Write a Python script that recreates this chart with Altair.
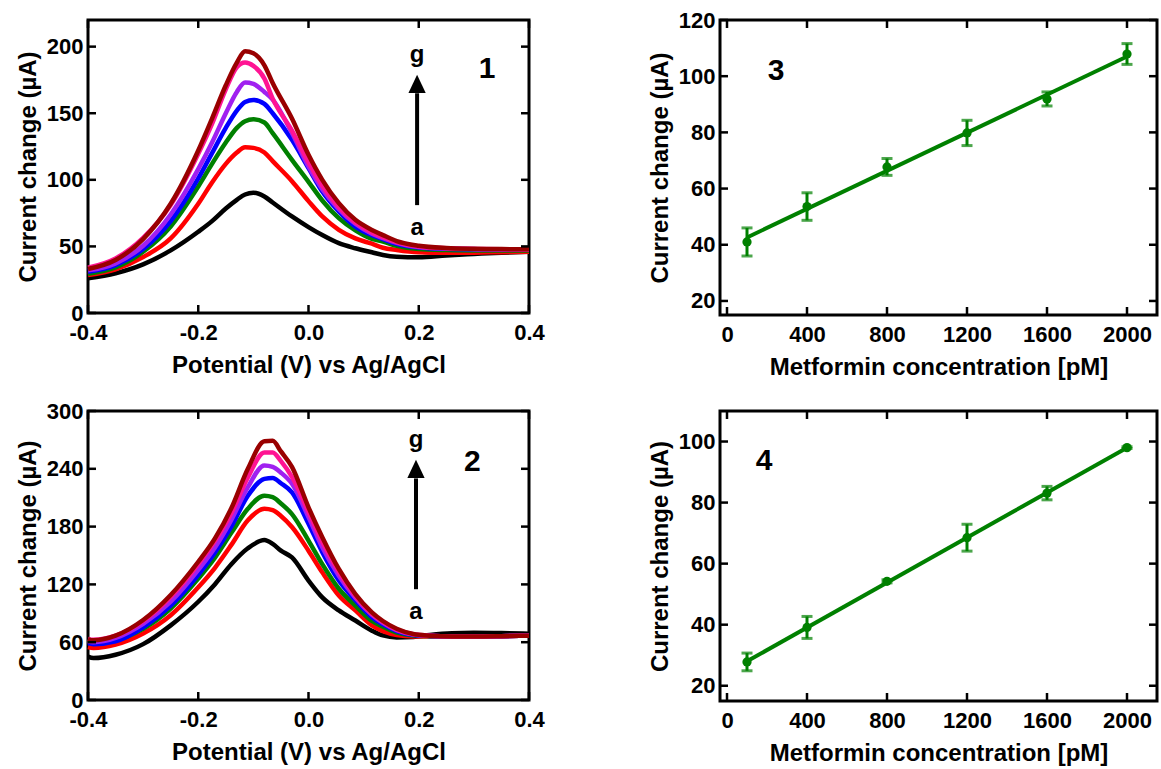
import altair as alt
import pandas as pd

FONT = "Liberation Sans"
LABEL_SIZE = 22
TITLE_SIZE = 24

CURVE_IDS = ["a", "b", "c", "d", "e", "f", "g"]
CURVE_COLORS = ["#000000", "#ff0000", "#008000", "#0000ff", "#a020f0", "#ff1493", "#990000"]

# ---------------- Panel 1 (DPV curves) ----------------
V1 = [-0.40, -0.35, -0.30, -0.25, -0.20, -0.175, -0.15, -0.13, -0.115, -0.10, -0.08, -0.065,
      -0.03, 0.0, 0.025, 0.055, 0.085, 0.115, 0.135, 0.16, 0.20, 0.25, 0.30, 0.35, 0.40]
p1_a = [26, 29.8, 36.5, 47, 61, 69, 78.5, 85, 89, 90.3, 87.5, 83, 72.5, 64.5, 58.5, 52.4, 48.6,
        45.6, 43.6, 42.3, 41.9, 43.2, 44.3, 45.3, 46]
p1_b = [28.5, 32.8, 42, 56, 82, 98, 112, 120.5, 124.5, 124, 120.5, 114, 99, 84, 72.5, 62.5,
        56, 52, 49, 47.3, 45.6, 45.2, 45.3, 45.7, 46]
p1_c = [29.5, 34.3, 46, 65, 95, 112, 128, 139, 144, 145.5, 143, 135, 115, 98.5, 84.5, 71.2, 62,
        55.6, 53.6, 50.5, 48, 47.3, 47, 47, 47]
p1_d = [31, 36, 48, 69, 101, 120, 139, 152, 158.5, 160, 157, 150, 130, 108.8, 91.2, 76.2, 64.9,
        58.5, 55.5, 52, 49.2, 48.2, 47.8, 47.6, 47.5]
p1_e = [32, 37.3, 50.5, 74, 108, 128, 150, 166, 173, 172, 166, 160.2, 135.1, 110, 93, 78, 67,
        59.5, 56.3, 52.7, 49.6, 48.4, 48, 47.8, 47.6]
p1_f = [34, 41, 56.5, 81, 119.5, 142, 168, 184.5, 188, 185.5, 176, 161, 137, 113, 95.5, 79.5,
        68, 60.5, 57, 53.3, 50, 48.6, 48.1, 47.9, 47.7]
p1_g = [33, 39.8, 55.5, 82, 122, 146, 171, 188, 196.5, 195, 186, 172.7, 146, 118.8, 100,
        82.5, 70, 62.4, 58.5, 54, 50.5, 48.8, 48.2, 48, 47.8]

# ---------------- Panel 2 (DPV curves) ----------------
V2 = [-0.40, -0.39, -0.35, -0.30, -0.25, -0.20, -0.17, -0.14, -0.11, -0.08, -0.065, -0.05,
      -0.03, 0.0, 0.025, 0.055, 0.085, 0.115, 0.135, 0.16, 0.19, 0.22, 0.26, 0.30, 0.35, 0.40]
p2_a = [45, 43.5, 47, 58, 77.5, 102, 120, 141, 157.5, 166, 162, 155, 148, 124, 106.5, 93, 82.5,
        72, 67, 65, 65.5, 67.5, 69.3, 69.8, 69.5, 68.8]
p2_b = [55, 54, 57.5, 69, 88, 117, 137, 161, 186.5, 198.5, 197, 191, 179.5, 155, 132.5, 108.5,
        93, 77.5, 71.5, 67.5, 66, 66, 66, 66, 66.3, 66.8]
p2_c = [62.5, 61, 62.5, 74, 95, 126, 147.5, 173.5, 198.5, 212, 210.5, 204, 193, 165.5, 141,
        115.5, 98, 82, 76, 70, 67, 66.3, 66, 66, 66.3, 66.8]
p2_d = [59, 58, 61, 75.5, 98, 130, 153, 180, 212, 229.5, 230.5, 225, 215.5, 183, 153.5, 124,
        103.5, 86, 78.5, 71.5, 67.5, 66.5, 66, 66, 66.3, 66.8]
p2_e = [61, 60, 64.4, 79, 102, 135, 158, 187, 221, 243.5, 242, 236, 224.5, 190, 158.5, 129, 106,
        88.5, 80, 72.5, 68, 66.6, 66, 66, 66.3, 66.8]
p2_f = [63.5, 62.5, 66.8, 82, 107, 141, 165, 194, 231, 257, 257, 248, 231.5, 195, 164, 133, 108,
        89.5, 81, 73, 68.3, 66.7, 66, 66, 66.3, 66.8]
p2_g = [63, 62, 66.8, 83, 109, 143.5, 167.5, 199, 240, 268.5, 269, 258, 242, 200, 169, 136, 110,
        91, 82, 74, 68.5, 66.8, 66, 66, 66.3, 66.8]

# ---------------- Panels 3 and 4 (calibration) ----------------
conc = [100, 400, 800, 1200, 1600, 2000]
p3_resp = [41, 53.6, 67.7, 79.8, 91.9, 107.9]
p3_err = [5.0, 4.9, 3.0, 4.5, 2.5, 3.7]
p3_fit_x = [100, 2000]
p3_fit_y = [42.6, 107.0]

p4_resp = [27.8, 39.1, 54.2, 68.5, 83.1, 98.0]
p4_err = [2.9, 3.6, 0.5, 4.4, 2.2, 0.3]
p4_fit_x = [100, 2000]
p4_fit_y = [28.0, 98.0]

V_TICKS = [-0.4, -0.2, 0.0, 0.2, 0.4]
P1_YTICKS = [0, 50, 100, 150, 200]
P2_YTICKS = [0, 60, 120, 180, 240, 300]
CONC_TICKS = [0, 400, 800, 1200, 1600, 2000]
P3_YTICKS = [20, 40, 60, 80, 100, 120]
P4_YTICKS = [20, 40, 60, 80, 100]

TICK_LEN = 8
TICK_W = 2.5
GREEN = "#008000"

Y_TITLE = "Current change (µA)"


def inward_ticks(X, Y, xvals, yvals, w, h):
    dfx = pd.DataFrame({"x": xvals})
    dfy = pd.DataFrame({"y": yvals})
    r = dict(color="black", strokeWidth=TICK_W)
    bottom = alt.Chart(dfx).mark_rule(**r).encode(x=X, y=alt.value(h - TICK_LEN), y2=alt.value(h))
    top = alt.Chart(dfx).mark_rule(**r).encode(x=X, y=alt.value(0), y2=alt.value(TICK_LEN))
    left = alt.Chart(dfy).mark_rule(**r).encode(y=Y, x=alt.value(0), x2=alt.value(TICK_LEN))
    right = alt.Chart(dfy).mark_rule(**r).encode(y=Y, x=alt.value(w - TICK_LEN), x2=alt.value(w))
    return [bottom, top, left, right]


def txt(x, y, s, size):
    return alt.Chart(pd.DataFrame({"_": [0]})).mark_text(
        font=FONT, fontSize=size, fontWeight="bold", color="black",
        align="center", baseline="middle").encode(
        x=alt.datum(x), y=alt.datum(y), text=alt.value(s))


def arrow(x, y_tail, y_head_base, y_head_center):
    one = pd.DataFrame({"_": [0]})
    shaft = alt.Chart(one).mark_rule(color="black", strokeWidth=4).encode(
        x=alt.datum(x), y=alt.datum(y_tail), y2=alt.datum(y_head_base))
    head = alt.Chart(one).mark_point(
        shape="M0,-1L0.95,1L-0.95,1Z", filled=True, size=330, color="black",
        opacity=1, strokeWidth=0).encode(x=alt.datum(x), y=alt.datum(y_head_center))
    return [shaft, head]


def curve_panel(V, curves, ydom, yticks, w, h, ann):
    rows = []
    for cid, vals in zip(CURVE_IDS, curves):
        for v, i in zip(V, vals):
            rows.append({"x": v, "y": i, "curve": cid})
    df = pd.DataFrame(rows)
    X = alt.X("x:Q", scale=alt.Scale(domain=[-0.4, 0.4], nice=False, zero=False),
              axis=alt.Axis(values=V_TICKS, title="Potential (V) vs Ag/AgCl",
                            labelExpr="datum.value < -0.0001 ? '-' + format(abs(datum.value), '.1f') : format(abs(datum.value), '.1f')"))
    Y = alt.Y("y:Q", scale=alt.Scale(domain=ydom, nice=False, zero=False),
              axis=alt.Axis(values=yticks, title=Y_TITLE, format="d"))
    lines = alt.Chart(df).mark_line(strokeWidth=4.5, interpolate="monotone").encode(
        x=X, y=Y,
        color=alt.Color("curve:N", scale=alt.Scale(domain=CURVE_IDS, range=CURVE_COLORS), legend=None),
        order=alt.Order("x:Q"))
    layers = [lines] + inward_ticks(X, Y, V_TICKS, yticks, w, h)
    layers += [txt(ann["gx"], ann["gy"], "g", 24), txt(ann["gx"], ann["ay"], "a", 24),
               txt(ann["nx"], ann["ny"], ann["num"], 30)]
    layers += arrow(ann["gx"], ann["tail"], ann["hbase"], ann["hc"])
    return alt.layer(*layers).properties(width=w, height=h)


def cal_panel(resp, err, fit_x, fit_y, ydom, yticks, w, h, num, nx, ny):
    df = pd.DataFrame({"x": conc, "y": resp,
                       "lo": [r - e for r, e in zip(resp, err)],
                       "hi": [r + e for r, e in zip(resp, err)]})
    fit = pd.DataFrame({"x": fit_x, "y": fit_y})
    xs = alt.Scale(domain=[-35, 2150], nice=False, zero=False)
    ys = alt.Scale(domain=ydom, nice=False, zero=False)
    xax = alt.Axis(values=CONC_TICKS, title="Metformin concentration [pM]", format="d")
    yax = alt.Axis(values=yticks, title=Y_TITLE, format="d")
    X = alt.X("x:Q", scale=xs, axis=xax)
    Y = alt.Y("y:Q", scale=ys, axis=yax)
    line = alt.Chart(fit).mark_line(color=GREEN, strokeWidth=4).encode(x=X, y=Y)
    bars = alt.Chart(df).mark_rule(color=GREEN, strokeWidth=3).encode(
        x=X, y=alt.Y("lo:Q", scale=ys, axis=yax), y2="hi:Q")
    cap_lo = alt.Chart(df).mark_tick(color=GREEN, orient="horizontal", size=11, thickness=3).encode(
        x=X, y=alt.Y("lo:Q", scale=ys, axis=yax))
    cap_hi = alt.Chart(df).mark_tick(color=GREEN, orient="horizontal", size=11, thickness=3).encode(
        x=X, y=alt.Y("hi:Q", scale=ys, axis=yax))
    dots = alt.Chart(df).mark_circle(color=GREEN, size=85, opacity=1).encode(x=X, y=Y)
    layers = [line, bars, cap_lo, cap_hi, dots] + inward_ticks(X, Y, CONC_TICKS, yticks, w, h)
    layers.append(txt(nx, ny, num, 30))
    return alt.layer(*layers).properties(width=w, height=h)


p1 = curve_panel(V1, [p1_a, p1_b, p1_c, p1_d, p1_e, p1_f, p1_g], [0, 220], P1_YTICKS, 441, 293,
                 dict(gx=0.197, gy=194, ay=64, tail=81, hbase=165, hc=172, num="1", nx=0.324, ny=183))
p2 = curve_panel(V2, [p2_a, p2_b, p2_c, p2_d, p2_e, p2_f, p2_g], [0, 300], P2_YTICKS, 441, 289,
                 dict(gx=0.195, gy=270, ay=91, tail=115, hbase=230, hc=240, num="2", nx=0.297, ny=247))
p3 = cal_panel(p3_resp, p3_err, p3_fit_x, p3_fit_y, [15, 120], P3_YTICKS, 437, 295, "3", 245, 101.8)
p4 = cal_panel(p4_resp, p4_err, p4_fit_x, p4_fit_y, [15, 110], P4_YTICKS, 437, 290, "4", 186, 93.6)

row1 = alt.hconcat(p1, p3, spacing=100)
row2 = alt.hconcat(p2, p4, spacing=100)

chart = alt.vconcat(row1, row2, spacing=17).properties(
    padding={"left": 14, "top": 7, "right": 0, "bottom": 0},
    background="white",
).configure_view(
    stroke="black", strokeWidth=3
).configure_axis(
    labelFont=FONT, labelFontSize=LABEL_SIZE, labelFontWeight="bold", labelColor="black",
    titleFont=FONT, titleFontSize=TITLE_SIZE, titleFontWeight="bold", titleColor="black",
    domain=False, ticks=False, tickSize=0, grid=False,
    labelFlush=False, labelOverlap=False, labelPadding=5, titlePadding=6,
).configure_axisX(
    labelPadding=9, titlePadding=10,
)

chart.save("out.html", embed_options={"renderer": "svg", "actions": False})
